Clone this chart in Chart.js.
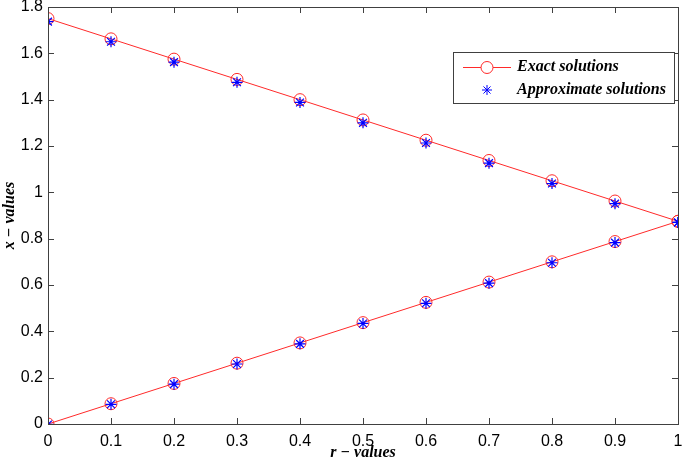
<!DOCTYPE html>
<html>
<head>
<meta charset="utf-8">
<script src="https://cdn.jsdelivr.net/npm/chart.js@4/dist/chart.umd.min.js"></script>
<style>
  html, body { margin: 0; padding: 0; background: #fff; }
  #wrap { width: 685px; height: 462px; }
</style>
</head>
<body>
<div id="wrap"><canvas id="chart"></canvas></div>
<script>
const rValues = [0, 0.1, 0.2, 0.3, 0.4, 0.5, 0.6, 0.7, 0.8, 0.9, 1];
const exactUpper = [1.75, 1.6625, 1.575, 1.4875, 1.4, 1.3125, 1.225, 1.1375, 1.05, 0.9625, 0.875];
const exactLower = [0, 0.0875, 0.175, 0.2625, 0.35, 0.4375, 0.525, 0.6125, 0.7, 0.7875, 0.875];
const approxUpper = [1.737, 1.650, 1.562, 1.475, 1.388, 1.300, 1.213, 1.126, 1.038, 0.951, 0.870];
const approxLower = [-0.002, 0.085, 0.172, 0.259, 0.346, 0.434, 0.521, 0.608, 0.696, 0.783, 0.870];
const xTicks = [0, 0.1, 0.2, 0.3, 0.4, 0.5, 0.6, 0.7, 0.8, 0.9, 1];
const yTicks = [0, 0.2, 0.4, 0.6, 0.8, 1, 1.2, 1.4, 1.6, 1.8];
const seriesNames = ["Exact solutions", "Approximate solutions"];

const toPoints = (ys) => rValues.map((x, i) => ({ x: x, y: ys[i] }));
const axisColor = "#404040";

function exactSet(ys) {
  return {
    data: toPoints(ys),
    borderColor: "#ff2a2a",
    borderWidth: 1,
    pointStyle: "circle",
    pointRadius: 6,
    pointBorderColor: "#ff2a2a",
    pointBackgroundColor: "rgba(0,0,0,0)",
    pointBorderWidth: 1,
    tension: 0,
    order: 2,
  };
}
function approxSet(ys) {
  return {
    data: toPoints(ys),
    showLine: false,
    pointStyle: "star",
    pointRadius: 5.5,
    pointBorderColor: "#0000ff",
    pointBackgroundColor: "#0000ff",
    pointBorderWidth: 1.2,
    order: 1,
  };
}

// inward ticks on all four sides + box, like matlab
const boxTicks = {
  id: "boxTicks",
  afterDraw(chart) {
    const { ctx, chartArea: a, scales } = chart;
    ctx.save();
    ctx.strokeStyle = axisColor;
    ctx.lineWidth = 1;
    ctx.strokeRect(a.left + 0.5, a.top + 0.5, a.right - a.left, a.bottom - a.top);
    ctx.beginPath();
    xTicks.forEach((v) => {
      const px = Math.round(scales.x.getPixelForValue(v)) + 0.5;
      ctx.moveTo(px, a.bottom); ctx.lineTo(px, a.bottom - 6);
      ctx.moveTo(px, a.top); ctx.lineTo(px, a.top + 6);
    });
    yTicks.forEach((v) => {
      const py = Math.round(scales.y.getPixelForValue(v)) + 0.5;
      ctx.moveTo(a.left, py); ctx.lineTo(a.left + 6, py);
      ctx.moveTo(a.right, py); ctx.lineTo(a.right - 6, py);
    });
    ctx.stroke();

    // legend box
    const lx = a.right - 225, ly = a.top + 45, lw = 221, lh = 51;
    ctx.fillStyle = "#fff";
    ctx.fillRect(lx, ly, lw, lh);
    ctx.strokeStyle = "#404040";
    ctx.strokeRect(lx + 0.5, ly + 0.5, lw, lh);
    const sx = lx + 34;
    ctx.strokeStyle = "#ff2a2a";
    ctx.beginPath();
    ctx.moveTo(lx + 10, ly + 15.5); ctx.lineTo(lx + 58, ly + 15.5);
    ctx.stroke();
    ctx.beginPath();
    ctx.arc(sx, ly + 15.5, 6, 0, Math.PI * 2);
    ctx.fillStyle = "#fff";
    ctx.fill();
    ctx.stroke();
    ctx.strokeStyle = "#0000ff";
    ctx.fillStyle = "#0000ff";
    Chart.helpers.drawPoint(ctx, { pointStyle: "star", radius: 5, borderWidth: 1 }, sx, ly + 38);
    ctx.fillStyle = "#000";
    ctx.font = "italic bold 16px 'Liberation Serif'";
    ctx.textBaseline = "middle";
    ctx.fillText(seriesNames[0], lx + 64, ly + 15);
    ctx.fillText(seriesNames[1], lx + 64, ly + 38);
    ctx.restore();
  },
};

new Chart(document.getElementById("chart"), {
  type: "line",
  data: {
    datasets: [
      exactSet(exactUpper),
      exactSet(exactLower),
      approxSet(approxUpper),
      approxSet(approxLower),
    ],
  },
  options: {
    responsive: true,
    maintainAspectRatio: false,
    animation: false,
    layout: { padding: { top: 5, right: 5, left: 0, bottom: 0 } },
    plugins: { legend: { display: false }, tooltip: { enabled: false } },
    scales: {
      x: {
        type: "linear",
        min: 0,
        max: 1,
        grid: { display: false, drawTicks: false },
        border: { display: false },
        afterBuildTicks: (s) => { s.ticks = xTicks.map((v) => ({ value: v })); },
        afterFit: (s) => { s.height = 38; s.paddingLeft = 0; s.paddingRight = 0; },
        ticks: {
          color: "#000",
          padding: 8,
          maxRotation: 0,
          callback: (v) => String(v),
          font: { family: "'Liberation Sans'", size: 16 },
        },
        title: {
          display: true,
          text: "r − values",
          color: "#000",
          padding: 0,
          font: { family: "'Liberation Serif'", size: 16, style: "italic", weight: "bold" },
        },
      },
      y: {
        min: 0,
        max: 1.8,
        grid: { display: false, drawTicks: false },
        border: { display: false },
        afterBuildTicks: (s) => { s.ticks = yTicks.map((v) => ({ value: v })); },
        afterFit: (s) => { s.width = 48; s.paddingTop = 0; s.paddingBottom = 0; },
        ticks: {
          color: "#000",
          padding: 5,
          callback: (v) => String(v),
          font: { family: "'Liberation Sans'", size: 16 },
        },
        title: {
          display: true,
          text: "x − values",
          color: "#000",
          padding: 0,
          font: { family: "'Liberation Serif'", size: 16, style: "italic", weight: "bold" },
        },
      },
    },
  },
  plugins: [boxTicks],
});
</script>
</body>
</html>
